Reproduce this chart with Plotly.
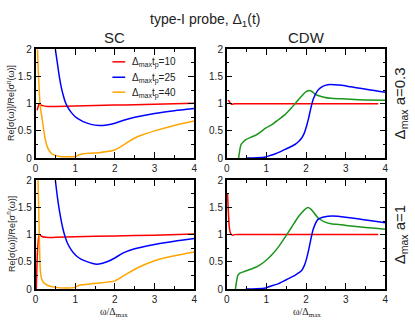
import plotly.graph_objects as go

# ---------------- data ----------------
# SC, a=0.3
sc03_red_x = [0.04, 0.06, 0.09, 0.13, 0.2, 0.3, 0.5, 1.0, 1.5, 2.0, 2.5, 3.0, 3.5, 4.0]
sc03_red_y = [0.88, 0.93, 1.0, 0.98, 0.96, 0.95, 0.95, 0.96, 0.965, 0.975, 0.98, 0.99, 1.0, 1.01]
sc03_blue_x = [0.5, 0.55, 0.6, 0.65, 0.7, 0.75, 0.8, 0.9, 1.0, 1.1, 1.2, 1.4, 1.6, 1.8, 2.0, 2.2, 2.5, 3.0, 3.5, 4.0]
sc03_blue_y = [2.0, 1.75, 1.5, 1.3, 1.15, 1.03, 0.95, 0.84, 0.76, 0.71, 0.67, 0.62, 0.6, 0.61, 0.64, 0.69, 0.75, 0.82, 0.87, 0.91]
sc03_orange_x = [0.04, 0.07, 0.1, 0.12, 0.15, 0.18, 0.21, 0.25, 0.29, 0.35, 0.41, 0.5, 0.62, 0.8, 1.0, 1.1, 1.2, 1.4, 1.6, 1.8, 2.0, 2.15, 2.3, 2.5, 2.7, 3.0, 3.5, 4.0]
sc03_orange_y = [2.2, 1.6, 1.15, 0.95, 0.8, 0.65, 0.5, 0.33, 0.22, 0.13, 0.08, 0.05, 0.03, 0.025, 0.03, 0.06, 0.08, 0.09, 0.1, 0.12, 0.15, 0.21, 0.28, 0.37, 0.43, 0.5, 0.6, 0.68]

# SC, a=1
sc1_red_x = [0.02, 0.03, 0.05, 0.08, 0.1, 0.15, 0.25, 0.5, 1.0, 2.0, 3.0, 4.0]
sc1_red_y = [0.0, 0.3, 0.7, 0.95, 1.0, 0.97, 0.95, 0.95, 0.96, 0.975, 0.99, 1.01]
sc1_blue_x = [0.5, 0.55, 0.6, 0.65, 0.7, 0.75, 0.8, 0.9, 1.0, 1.1, 1.2, 1.35, 1.5, 1.6, 1.8, 2.0, 2.2, 2.5, 3.0, 3.5, 4.0]
sc1_blue_y = [2.0, 1.7, 1.45, 1.25, 1.08, 0.95, 0.85, 0.72, 0.63, 0.57, 0.53, 0.49, 0.46, 0.46, 0.5, 0.57, 0.66, 0.74, 0.82, 0.88, 0.93]
sc1_orange_x = [0.06, 0.08, 0.1, 0.12, 0.15, 0.2, 0.3, 0.5, 0.8, 1.0, 1.1, 1.2, 1.6, 2.0, 2.3, 2.6, 3.0, 3.5, 4.0]
sc1_orange_y = [2.1, 1.5, 0.8, 0.35, 0.2, 0.12, 0.07, 0.03, 0.02, 0.03, 0.07, 0.08, 0.11, 0.15, 0.28, 0.4, 0.52, 0.61, 0.68]

# CDW, a=0.3
cdw03_red_x = [0.03, 0.05, 0.08, 0.12, 0.2, 0.5, 1.0, 2.0, 3.0, 3.82]
cdw03_red_y = [1.05, 1.06, 1.02, 0.99, 1.0, 1.0, 1.0, 1.0, 1.0, 1.0]
cdw03_green_x = [0.3, 0.33, 0.36, 0.42, 0.48, 0.6, 0.73, 0.85, 0.98, 1.15, 1.31, 1.47, 1.64, 1.78, 1.89, 1.98, 2.05, 2.14, 2.22, 2.3, 2.45, 2.63, 2.9, 3.13, 3.5, 4.0]
cdw03_green_y = [0.0, 0.15, 0.25, 0.3, 0.34, 0.38, 0.42, 0.48, 0.55, 0.62, 0.71, 0.8, 0.93, 1.05, 1.14, 1.21, 1.24, 1.23, 1.18, 1.15, 1.12, 1.1, 1.09, 1.08, 1.07, 1.065]
cdw03_blue_x = [0.5, 0.75, 0.98, 1.1, 1.23, 1.47, 1.72, 1.82, 1.89, 1.95, 2.01, 2.06, 2.1, 2.18, 2.3, 2.42, 2.55, 2.72, 2.9, 3.13, 3.4, 3.63, 4.0]
cdw03_blue_y = [0.0, 0.005, 0.02, 0.05, 0.08, 0.16, 0.25, 0.31, 0.37, 0.45, 0.58, 0.72, 0.85, 1.08, 1.25, 1.32, 1.35, 1.35, 1.34, 1.31, 1.28, 1.25, 1.21]

# CDW, a=1
cdw1_red_x = [0.02, 0.03, 0.05, 0.07, 0.1, 0.15, 0.2, 0.5, 1.0, 2.0, 3.0, 3.82]
cdw1_red_y = [1.75, 1.6, 1.3, 1.1, 1.02, 0.99, 1.0, 1.0, 1.0, 1.0, 1.0, 1.0]
cdw1_green_x = [0.22, 0.25, 0.28, 0.33, 0.4, 0.55, 0.73, 0.85, 0.98, 1.15, 1.31, 1.47, 1.64, 1.78, 1.89, 1.98, 2.05, 2.12, 2.18, 2.3, 2.45, 2.63, 2.9, 3.13, 3.5, 4.0]
cdw1_green_y = [0.0, 0.15, 0.25, 0.29, 0.31, 0.35, 0.4, 0.45, 0.52, 0.64, 0.78, 0.95, 1.14, 1.3, 1.4, 1.47, 1.5, 1.47, 1.42, 1.31, 1.24, 1.2, 1.18, 1.16, 1.13, 1.1]
cdw1_blue_x = [0.48, 0.75, 0.98, 1.1, 1.31, 1.5, 1.72, 1.82, 1.89, 1.95, 2.01, 2.06, 2.1, 2.18, 2.3, 2.42, 2.55, 2.8, 3.0, 3.3, 3.6, 4.0]
cdw1_blue_y = [0.0, 0.005, 0.02, 0.05, 0.1, 0.17, 0.25, 0.3, 0.34, 0.42, 0.55, 0.7, 0.84, 1.1, 1.28, 1.32, 1.34, 1.34, 1.32, 1.29, 1.26, 1.22]

legend_labels = ["Δ<sub>max</sub>t<sub>p</sub>=10", "Δ<sub>max</sub>t<sub>p</sub>=25", "Δ<sub>max</sub>t<sub>p</sub>=40"]
x_ticks = [0, 1, 2, 3, 4]
y_ticks = [0, 0.5, 1, 1.5, 2]
y_tick_text = ["0", "0.5", "1", "1.5", "2"]

RED = "#ff0000"
BLUE = "#0000ff"
ORANGE = "#ffa500"
GREEN = "#1a961a"

FONT = "Liberation Sans"
W, H = 415, 321

fig = go.Figure()

def add(x, y, color, ax):
    fig.add_trace(go.Scatter(x=x, y=y, mode="lines", line=dict(color=color, width=1.5, shape="spline", smoothing=0.6),
                             xaxis="x" + ax, yaxis="y" + ax, showlegend=False, hoverinfo="skip"))

add(sc03_red_x, sc03_red_y, RED, "")
add(sc03_blue_x, sc03_blue_y, BLUE, "")
add(sc03_orange_x, sc03_orange_y, ORANGE, "")
add(cdw03_red_x, cdw03_red_y, RED, "2")
add(cdw03_green_x, cdw03_green_y, GREEN, "2")
add(cdw03_blue_x, cdw03_blue_y, BLUE, "2")
add(sc1_red_x, sc1_red_y, RED, "3")
add(sc1_blue_x, sc1_blue_y, BLUE, "3")
add(sc1_orange_x, sc1_orange_y, ORANGE, "3")
add(cdw1_red_x, cdw1_red_y, RED, "4")
add(cdw1_green_x, cdw1_green_y, GREEN, "4")
add(cdw1_blue_x, cdw1_blue_y, BLUE, "4")

# panel pixel boxes
def px(x):
    return x / W
def py(y):
    return 1 - y / H

xl = [px(33), px(194)]
xr = [px(227), px(388)]
yt = [py(158), py(45)]
yb = [py(294), py(181)]

def xaxis(dom, anchor):
    return dict(domain=dom, anchor=anchor, range=[0, 4], tickvals=x_ticks, ticks="inside", ticklen=6,
                tickwidth=1, tickcolor="black", showline=True, linecolor="black", linewidth=1.5, mirror="ticks",
                showgrid=False, zeroline=False, tickfont=dict(size=10, family=FONT, color="#222"),
                minor=dict(dtick=0.5, ticks="inside", ticklen=3, tickcolor="black", showgrid=False))

def yaxis(dom, anchor):
    return dict(domain=dom, anchor=anchor, range=[0, 2], tickvals=y_ticks, ticktext=y_tick_text, ticks="inside",
                ticklen=6, tickwidth=1, tickcolor="black", showline=True, linecolor="black", linewidth=1.5,
                mirror="ticks", showgrid=False, zeroline=False, tickfont=dict(size=10, family=FONT, color="#222"),
                minor=dict(dtick=0.25, ticks="inside", ticklen=3, tickcolor="black", showgrid=False))

annotations = [
    dict(text="type-I probe, Δ<sub>1</sub>(t)", x=px(205), y=py(15), font=dict(size=14)),
    dict(text="SC", x=px(113), y=py(33), font=dict(size=15)),
    dict(text="CDW", x=px(308), y=py(33), font=dict(size=15)),
    dict(text="Δ<sub>max</sub> a=0.3", x=px(403), y=py(101), textangle=-90, font=dict(size=15)),
    dict(text="Δ<sub>max</sub> a=1", x=px(403), y=py(237), textangle=-90, font=dict(size=15)),
    dict(text="Re[σ(ω)]/Re[σ<sup>n</sup>(ω)]", x=px(8), y=py(101), textangle=-90, font=dict(size=9)),
    dict(text="Re[σ(ω)]/Re[σ<sup>n</sup>(ω)]", x=px(8), y=py(237), textangle=-90, font=dict(size=9)),
    dict(text="ω/Δ<sub>max</sub>", x=px(113), y=py(310), yanchor="top", font=dict(size=10, family="Liberation Serif")),
    dict(text="ω/Δ<sub>max</sub>", x=px(308), y=py(310), yanchor="top", font=dict(size=10, family="Liberation Serif")),
]
shapes = []
leg_colors = [RED, BLUE, ORANGE]
leg_y = [58, 74, 89.5]
for lab, c, yy in zip(legend_labels, leg_colors, leg_y):
    shapes.append(dict(type="line", xref="paper", yref="paper", x0=px(111), x1=px(124), y0=py(yy), y1=py(yy),
                       line=dict(color=c, width=1.5)))
    annotations.append(dict(text=lab, x=px(129), y=py(yy + 1), xanchor="left", font=dict(size=10)))

for a in annotations:
    a.setdefault("xref", "paper")
    a.setdefault("yref", "paper")
    a.setdefault("showarrow", False)
    a.setdefault("xanchor", "center")
    a.setdefault("yanchor", "middle")
    a["font"].setdefault("family", FONT)
    a["font"].setdefault("color", "#222")

fig.update_layout(
    width=W, height=H, margin=dict(l=0, r=0, t=0, b=0),
    paper_bgcolor="white", plot_bgcolor="white",
    xaxis=xaxis(xl, "y"), yaxis=yaxis(yt, "x"),
    xaxis2=xaxis(xr, "y2"), yaxis2=yaxis(yt, "x2"),
    xaxis3=xaxis(xl, "y3"), yaxis3=yaxis(yb, "x3"),
    xaxis4=xaxis(xr, "y4"), yaxis4=yaxis(yb, "x4"),
    annotations=annotations, shapes=shapes,
)

fig.write_html("out.html", config={"displayModeBar": False},
               post_script="document.body.style.margin='0';document.body.style.overflow='hidden';")
